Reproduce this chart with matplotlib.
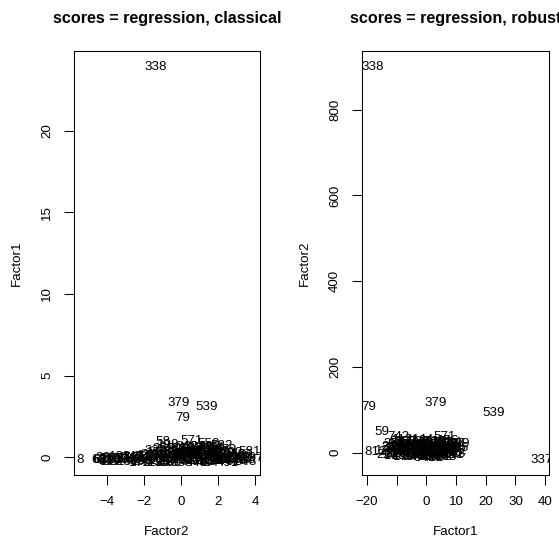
import matplotlib
matplotlib.use('Agg')
import matplotlib.pyplot as plt

plt.rcParams['font.family'] = ['Liberation Sans', 'DejaVu Sans']

# Dados - painel esquerdo (classical): x = Factor2, y = Factor1
esq_x = [-1.35, -0.15, 1.4, 0.1, 0.6, -1.0, -0.7, 1.5, 2.2, 3.7, 3.85, 3.3, -5.45, -4.45, -4.4, -3.7,
         -4.32, -4.05, -3.86, -3.62, -3.41, -3.18, -2.97, -2.74, -2.55, -2.31, -2.12, -1.93, -1.71, -1.52,
         -1.34, -1.15, -0.96, -0.78, -0.61, -0.42, -0.25, -0.08, 0.11, 0.27, 0.45, 0.63, 0.81, 0.98,
         1.16, 1.34, 1.52, 1.71, 1.89, 2.08, 2.26, 2.47, 2.69, 2.93, 3.18, 3.42,
         -3.95, -3.05, -2.4, -1.8, -1.05, -0.5, 0.0, 0.35, 0.7, 1.0, 1.25, 1.6, 1.95, 2.3, 2.6,
         -0.3, 0.2, 0.55, 0.95, 1.4, 1.75, -0.7, -1.3, 0.45, 1.1, -0.2, 0.85, 1.8, -1.55, 2.9,
         -4.2, -3.75, -3.3, -2.85, -2.6, -2.2, -2.0, -1.6, -1.2, -0.9, -0.55, -0.35, -0.15, 0.05,
         0.3, 0.6, 0.75, 0.9, 1.2, 1.45, 1.55, 1.85, 2.05, 2.4, 2.55, 2.75, 3.0, 3.25, 3.5,
         -1.4, -0.95, 0.1, 1.3, 2.15]
esq_y = [23.9, 3.3, 3.1, 2.4, 1.0, 0.9, 0.75, 0.82, 0.7, 0.3, -0.05, -0.08, -0.15, -0.15, -0.17, -0.14,
         -0.18, -0.22, -0.12, -0.25, -0.16, -0.21, -0.10, -0.24, -0.14, -0.20, -0.08, -0.26, -0.12, -0.19,
         -0.02, -0.23, -0.09, -0.28, 0.04, -0.17, -0.31, 0.02, -0.21, 0.08, -0.27, -0.05, -0.19, 0.06,
         -0.30, -0.08, -0.22, 0.03, -0.16, -0.27, -0.04, -0.19, -0.11, -0.24, -0.14, -0.20,
         -0.30, -0.03, -0.32, 0.05, 0.12, 0.18, 0.25, 0.21, 0.32, 0.28, 0.15, 0.24, 0.12, 0.18, 0.05,
         0.35, 0.45, 0.52, 0.48, 0.44, 0.38, 0.30, 0.22, 0.12, 0.05, -0.05, -0.35, -0.33, -0.34, 0.02,
         -0.05, -0.30, -0.02, -0.33, 0.00, -0.35, 0.02, 0.10, -0.36, 0.20, -0.35, 0.10, 0.50, -0.38,
         0.60, 0.20, 0.62, -0.10, 0.58, -0.38, 0.60, 0.55, 0.30, 0.42, -0.35, 0.22, -0.33, 0.10, -0.30,
         0.40, 0.50, 0.10, 0.35, -0.10]
esq_rot = ['338', '379', '539', '79', '571', '58', '198', '550', '582', '581', '597', '569', '8', '68', '63', '202',
           '61', '24', '215', '90', '233', '17', '301', '45', '126', '408', '252', '33', '147', '266',
           '312', '101', '455', '287', '163', '420', '374', '205', '498', '136', '521', '243', '359', '442',
           '318', '476', '229', '505', '391', '554', '262', '513', '487', '546', '563', '533',
           '12', '47', '96', '178', '221', '305', '341', '388', '402', '429', '466', '482', '517', '528', '541',
           '274', '356', '395', '437', '458', '471', '189', '156', '367', '412', '327', '448', '494', '113', '559',
           '36', '71', '108', '131', '142', '170', '184', '211', '238', '249', '280', '293', '322', '333',
           '348', '363', '381', '399', '415', '424', '433', '451', '462', '479', '491', '502', '524', '537', '548',
           '227', '258', '350', '418', '510']

# Dados - painel direito (robust): x = Factor1, y = Factor2
dir_x = [-18.0, -19.4, 3.0, 22.5, 39.0, -15.0, -9.5, -8.0, -17.0, 6.0, 11.0, -1.0,
         -13.5, -12.0, -11.0, -10.2, -9.0, -8.1, -7.3, -6.5, -5.6, -4.8, -4.0, -3.1, -2.3, -1.5, -0.7,
         0.2, 0.9, 1.7, 2.5, 3.2, 4.0, 4.8, 5.5, 6.3, 7.0, 7.7, 8.5, 9.2, 10.0, -11.5, -6.0, -2.8,
         1.0, 5.0, 8.0, -9.5, -4.2, 0.5, 3.6, 6.6, -1.0, 2.0, 4.4, -7.8, -3.6, 8.8, 10.5, -0.2, 6.0, -5.2,
         -12.5, -11.8, -10.5, -9.8, -8.6, -7.5, -6.8, -6.2, -5.0, -4.5, -3.8, -3.0, -2.0, -1.2, -0.5,
         0.0, 0.7, 1.4, 1.9, 2.8, 3.5, 4.2, 5.2, 5.8, 6.8, 7.4, 8.2, 9.0, 9.6, -13.0, -10.8, -7.0,
         -3.4, 3.0, 7.5, -8.8, 2.2, -5.8, 4.6, -0.8]
dir_y = [900, 107, 116, 93, -16, 49, 37, 30, 2, 37, 21, 30,
         3, -4, 8, -2, 5, -7, 12, 1, -5, 9, 16, -3, 6, 20, -6,
         11, 2, -4, 17, 7, -2, 13, 4, -6, 19, 9, 0, 14, 5, 14, 22, 24,
         22, 25, 23, 18, -8, -9, -7, -9, 14, 4, 20, 3, 2, -5, 12, 0, 10, 15,
         10, 2, -8, 12, -1, -10, 7, 16, 2, -11, 10, 18, -1, 8, -12,
         18, 6, -10, 13, -1, 11, 3, -10, 16, 2, -3, 8, 20, -2, -6, 20, 26,
         28, 26, 27, 24, -12, -4, 9, 4]
dir_rot = ['338', '79', '379', '539', '337', '59', '742', '112', '812', '571', '389', '144',
           '125', '61', '24', '215', '90', '233', '17', '301', '45', '126', '408', '252', '33', '147', '266',
           '312', '101', '455', '287', '163', '420', '374', '205', '498', '136', '521', '243', '359', '442',
           '318', '476', '229', '505', '391', '554', '262', '513', '487', '546', '563', '533', '12', '47',
           '96', '178', '221', '305', '341', '388', '402',
           '36', '71', '108', '131', '142', '170', '184', '211', '238', '249', '280', '293', '322', '333', '348',
           '363', '381', '399', '415', '424', '433', '451', '462', '479', '491', '502', '524', '537', '548', '227',
           '258', '350', '418', '510', '156', '367', '412', '327', '448', '494']

# Cores e tamanhos
C_T = 'black'
TAM = 9.6

fig = plt.figure(figsize=(5.59, 5.4), dpi=100)
fig.patch.set_facecolor('white')

ax1 = fig.add_axes([74 / 559, 65 / 540, 186 / 559, 424 / 540])
ax2 = fig.add_axes([362 / 559, 65 / 540, 187 / 559, 424 / 540])

paineis = [
    (ax1, esq_x, esq_y, esq_rot, 'scores = regression, classical', 'Factor2', 'Factor1',
     (-5.78, 4.27), (-1.1, 24.9), [-4, -2, 0, 2, 4], ['\u22124', '\u22122', '0', '2', '4'],
     [0, 5, 10, 15, 20], ['0', '5', '10', '15', '20']),
    (ax2, dir_x, dir_y, dir_rot, 'scores = regression, robust', 'Factor1', 'Factor2',
     (-21.7, 41.3), (-52, 937), [-20, -10, 0, 10, 20, 30, 40],
     ['\u221220', '', '0', '10', '20', '30', '40'],
     [0, 200, 400, 600, 800], ['0', '200', '400', '600', '800']),
]

for ax, xs, ys, rots, titulo, xl, yl, xlim, ylim, xt, xtl, yt, ytl in paineis:
    ax.set_xlim(*xlim)
    ax.set_ylim(*ylim)
    for x, y, r in zip(xs, ys, rots):
        ax.text(x, y, r, ha='center', va='center', fontsize=TAM, color=C_T, clip_on=True)

    ax.set_xticks(xt)
    ax.set_xticklabels(xtl)
    ax.set_yticks(yt)
    ax.set_yticklabels(ytl, rotation=90, va='center')
    ax.tick_params(axis='both', direction='out', length=7, width=0.75, labelsize=TAM, colors=C_T)
    ax.tick_params(axis='x', pad=8)
    ax.tick_params(axis='y', pad=8)
    for s in ax.spines.values():
        s.set_linewidth(0.75)
        s.set_edgecolor(C_T)

    ax.set_xlabel(xl, fontsize=TAM, va='center')
    ax.xaxis.set_label_coords(0.5, -57 / 424)
    ax.set_ylabel(yl, fontsize=TAM, va='center')
    ax.yaxis.set_label_coords(-57 / 187, 0.5)

    ax.text(0.5, 1 + 33 / 424, titulo, transform=ax.transAxes, ha='center', va='center',
            fontsize=11.6, fontweight='bold', color=C_T, clip_on=False)

plt.savefig('out.png', dpi=100, facecolor=fig.get_facecolor())
